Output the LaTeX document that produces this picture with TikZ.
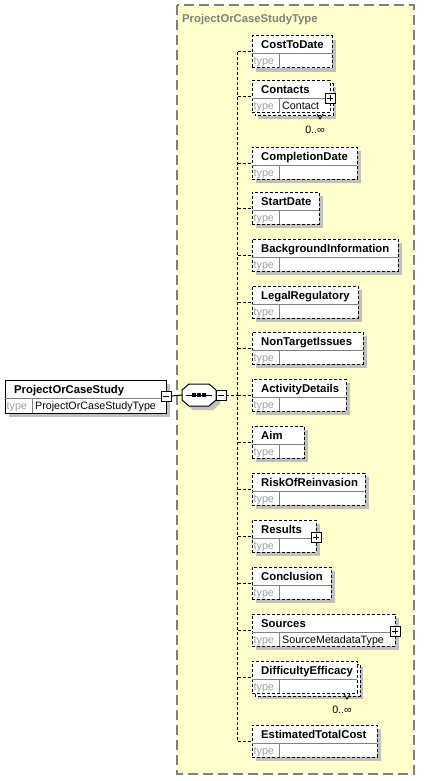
\documentclass[tikz,border=0pt]{standalone}
\usepackage{fontspec}
\setmainfont{Liberation Sans}

\definecolor{panel}{HTML}{FFFFCC}
\definecolor{shadowgray}{HTML}{C0C0C0}
\definecolor{framegray}{HTML}{808080}
\definecolor{labelgray}{HTML}{A0A0A0}

\tikzset{
  elembox/.style={draw=black, fill=white, dash pattern=on 3pt off 2pt, line width=1pt,
    inner sep=0pt, outer sep=0pt, anchor=north west},
  rootbox/.style={draw=black, fill=white, line width=1pt, inner sep=0pt, outer sep=0pt,
    anchor=north west},
  backbox/.style={draw=black, fill=white, dash pattern=on 3pt off 2pt, line width=1pt},
  cell/.style={draw=framegray, line width=1pt},
  nametext/.style={font=\fontsize{11.3}{13}\selectfont\bfseries, inner sep=0pt, anchor=base west},
  typetext/.style={font=\fontsize{10.7}{12}\selectfont, text=labelgray, inner sep=0pt, anchor=base west},
  valtext/.style={font=\fontsize{10.7}{12}\selectfont, inner sep=0pt, anchor=base west},
  occurtext/.style={font=\fontsize{10.7}{12}\selectfont, inner sep=0pt, anchor=base east},
  conn/.style={draw=black, line width=1pt, dash pattern=on 3pt off 2pt},
  solidconn/.style={draw=black, line width=1pt},
  dropshadow/.style={fill=shadowgray},
  togglebox/.style={draw=black, fill=white, line width=0.8pt, minimum size=10pt,
    inner sep=0pt, outer sep=0pt},
  minusbox/.style={togglebox, path picture={
    \draw[line width=0.8pt] ([xshift=2pt]path picture bounding box.west)
      -- ([xshift=-2pt]path picture bounding box.east);}},
  plusbox/.style={togglebox, path picture={
    \draw[line width=0.8pt] ([xshift=2pt]path picture bounding box.west)
      -- ([xshift=-2pt]path picture bounding box.east);
    \draw[line width=0.8pt] ([yshift=-2pt]path picture bounding box.north)
      -- ([yshift=2pt]path picture bounding box.south);}},
  seqarea/.style={minimum width=34pt, minimum height=22pt, inner sep=0pt, outer sep=0pt},
}

% body of a child element: #1 node name, #2 label, #3 top edge, #4 right edge, #5 type
\newcommand\xsdbody[5]{%
  \node[elembox, minimum width=#4-252, minimum height=32] (#1) at (252,#3) {};
  \draw[cell] ([yshift=-18pt]#1.north west) -- ([yshift=-18pt]#1.north east);
  \draw[cell] ([xshift=27pt,yshift=-18pt]#1.north west) -- ([xshift=27pt]#1.south west);
  \node[nametext] (#1-name) at ([xshift=9pt,yshift=-13pt]#1.north west) {#2};
  \node[typetext] (#1-type) at ([xshift=1.5pt,yshift=-29pt]#1.north west) {type};
  \node[valtext] (#1-val) at ([xshift=30pt,yshift=-29pt]#1.north west) {#5};
  \coordinate (#1-j) at (237.5,#3+16);
  \draw[conn] (#1-j) -- (#1-j -| #1.west);
}
% element occurring once
\newcommand\xsdsingle[5]{%
  \fill[dropshadow] (256,#3+4) rectangle (#4+4,#3+36);
  \xsdbody{#1}{#2}{#3}{#4}{#5}%
}
% element occurring 0..unbounded times
\newcommand\xsdmany[5]{%
  \fill[dropshadow] (258,#3+6) rectangle (#4+6,#3+38);
  \draw[backbox] (255,#3+3) rectangle (#4+3,#3+35);
  \xsdbody{#1}{#2}{#3}{#4}{#5}%
  \draw[line width=0.8pt] (#4-13,#3+33) -- (#4-10,#3+38) -- (#4-7,#3+33);
  \node[occurtext] (#1-occ) at (#4-5,#3+52) {0..∞};
}
% octagon outline of the sequence compositor, centred at (#1,#2)
\newcommand\seqoctagon[3]{%
  \path[#3] (#1-10,#2-11) -- (#1+10,#2-11) -- (#1+17,#2-5) -- (#1+17,#2+5)
    -- (#1+10,#2+11) -- (#1-10,#2+11) -- (#1-17,#2+5) -- (#1-17,#2-5) -- cycle;
}

\begin{document}
\begin{tikzpicture}[x=1pt,y=-1pt]
\useasboundingbox (0,0) rectangle (433,781);
\fill[white] (0,0) rectangle (433,781);

% complex type panel
\draw[draw=framegray, line width=1.5pt, dash pattern=on 10pt off 5pt, fill=panel]
  (177,5) rectangle (414,774);
\node[font=\fontsize{11.3}{13}\selectfont\bfseries, text=framegray, inner sep=0pt,
  anchor=base west] (paneltitle) at (182,22.5) {ProjectOrCaseStudyType};

% root element
\fill[dropshadow] (9,384) rectangle (170,417);
\node[rootbox, minimum width=161, minimum height=33] (root) at (5,380) {};
\draw[cell] ([yshift=-18pt]root.north west) -- ([yshift=-18pt]root.north east);
\draw[cell] ([xshift=27pt,yshift=-18pt]root.north west) -- ([xshift=27pt]root.south west);
\node[nametext] (root-name) at (14,393) {ProjectOrCaseStudy};
\node[typetext] (root-type) at (6.5,409) {type};
\node[valtext] (root-val) at (35,409) {ProjectOrCaseStudyType};
\node[minusbox] (rootminus) at (166,396) {};

% sequence compositor
\seqoctagon{203}{399}{dropshadow, fill=shadowgray}
\seqoctagon{199}{395}{draw=black, fill=white, line width=1pt}
\node[seqarea] (seq) at (199,395) {};
\draw[solidconn] ([xshift=4pt]seq.west) -- ([xshift=-4pt]seq.east);
\foreach \dx in {-5,0,5} \fill (seq.center) ++(\dx-1.7,-1.7) rectangle ++(3.4,3.4);
\node[minusbox] (seqminus) at (221,395.5) {};
\draw[solidconn] (rootminus.east) -- (seq.west);
\coordinate (spinemid) at (237.5,395.5);
\draw[conn] (seqminus.east) -- (spinemid);

% child elements
\xsdsingle{cost}{CostToDate}{36}{332}{}
\xsdmany{contacts}{Contacts}{81}{330}{Contact}
\node[plusbox] (contacts-more) at ([yshift=-17pt]contacts.north east) {};
\xsdsingle{completion}{CompletionDate}{147}{357}{}
\xsdsingle{start}{StartDate}{192}{319}{}
\xsdsingle{background}{BackgroundInformation}{239}{398}{}
\xsdsingle{legal}{LegalRegulatory}{286}{358}{}
\xsdsingle{nontarget}{NonTargetIssues}{332}{363}{}
\xsdsingle{activity}{ActivityDetails}{379}{346}{}
\xsdsingle{aim}{Aim}{426}{304}{}
\xsdsingle{risk}{RiskOfReinvasion}{473}{365}{}
\xsdsingle{results}{Results}{520}{316}{}
\node[plusbox] (results-more) at ([yshift=-17pt]results.north east) {};
\xsdsingle{conclusion}{Conclusion}{567}{331}{}
\xsdsingle{sources}{Sources}{614}{395}{SourceMetadataType}
\node[plusbox] (sources-more) at ([yshift=-17pt]sources.north east) {};
\xsdmany{difficulty}{DifficultyEfficacy}{661}{357}{}
\xsdsingle{estimated}{EstimatedTotalCost}{725}{377}{}

% sequence spine
\draw[conn] (cost-j) -- (estimated-j);
\end{tikzpicture}
\end{document}
